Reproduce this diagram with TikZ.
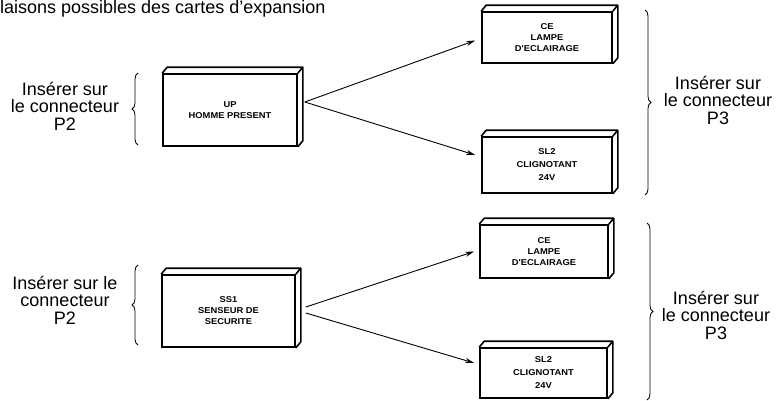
\documentclass[tikz,border=0pt]{standalone}
\usepackage{fontspec}
\setmainfont{Liberation Sans}
\newfontfamily\cartefont{Liberation Sans}[FakeStretch=1.1]
\usetikzlibrary{arrows.meta,calc,decorations.pathreplacing}

\begin{document}
\begin{tikzpicture}[x=1pt,y=-1pt]
        \tikzstyle{every node}=[inner sep=0pt]
        \tikzstyle{texte}=[align=center, font=\fontsize{18}{17.5}\selectfont]
        \tikzstyle{carte}=[draw, line width=1.6pt, align=center, font=\cartefont\bfseries\fontsize{8.5}{11}\selectfont]
        \tikzstyle{fleche}=[line width=0.9pt, -{Stealth[length=9pt,width=5pt]}]
        \tikzstyle{accolade}=[line width=0.8pt, decorate, decoration={brace, amplitude=6pt}]
        \useasboundingbox (0,0) rectangle (780,400);
        \node[anchor=base west, font=\fontsize{18}{18}\selectfont] (titre) at (0,13) {laisons possibles des cartes d'expansion};
        \node[carte, minimum width=134pt, minimum height=72pt] (up) at (230,110) {UP\\HOMME PRESENT};
        \node[carte, minimum width=130pt, minimum height=51pt] (ce) at (547,37.5) {CE\\LAMPE\\D'ECLAIRAGE};
        \node[carte, minimum width=130pt, minimum height=56pt] (sl) at (547,165) {SL2\\[2pt]CLIGNOTANT\\[2pt]24V};
        \node[carte, minimum width=133pt, minimum height=72pt] (ss) at (228.5,311) {SS1\\SENSEUR DE\\SECURITE};
        \node[carte, minimum width=128pt, minimum height=53pt] (ceb) at (544,251.5) {CE\\LAMPE\\D'ECLAIRAGE};
        \node[carte, minimum width=127pt, minimum height=50pt] (slb) at (543.5,373) {SL2\\[2pt]CLIGNOTANT\\[2pt]24V};
        \foreach \n in {up,ce,sl,ss,ceb,slb}
            \draw[line width=1.6pt, line join=round] (\n.north west) -- ++(5,-6) -| ($(\n.south east)+(5,-6)$) -- (\n.south east) (\n.north east) -- ++(5,-6);
        \node[texte] (p2a) at (65,106) {Insérer sur\\le connecteur\\P2};
        \node[texte] (p3a) at (718,100) {Insérer sur\\le connecteur\\P3};
        \node[texte] (p2b) at (65,300) {Insérer sur le\\connecteur\\P2};
        \node[texte] (p3b) at (716,315) {Insérer sur\\le connecteur\\P3};
        \draw[accolade] (138,145) -- (138,73);
        \draw[accolade] (138,345) -- (138,265);
        \draw[accolade] (645,10) -- (645,195);
        \draw[accolade] (647,223) -- (647,400);
        \draw[fleche] ([xshift=7pt,yshift=8pt]up.east) -- ([xshift=-6pt,yshift=-3pt]ce.west);
        \draw[fleche] ([xshift=7pt,yshift=8pt]up.east) -- ([xshift=-6pt,yshift=10pt]sl.west);
        \draw[fleche] ([xshift=10pt,yshift=4pt]ss.east) -- ([xshift=-5pt]ceb.west);
        \draw[fleche] ([xshift=10pt,yshift=-2pt]ss.east) -- ([xshift=-5pt,yshift=10pt]slb.west);
\end{tikzpicture}
\end{document}
